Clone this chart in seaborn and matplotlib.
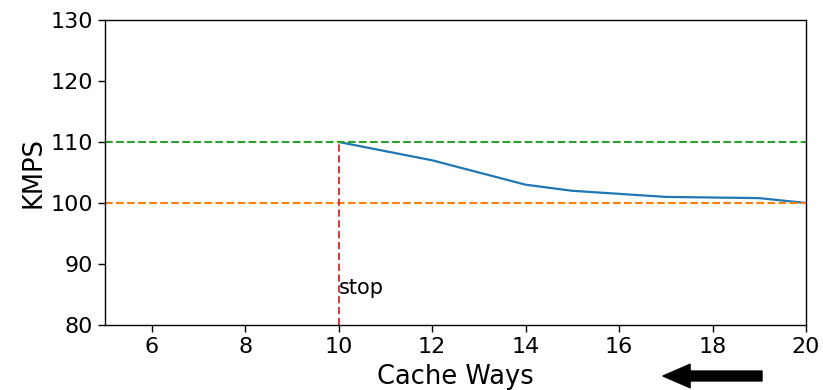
import matplotlib
matplotlib.use("Agg")
import matplotlib.pyplot as plt
import seaborn as sns
import pandas as pd

ways = [10, 12, 14, 15, 17, 19, 20]
kmps = [110, 107, 103, 102, 101, 100.8, 100]
target_high = 110
target_base = 100
stop_way = 10

sns.set_style("ticks")
plt.rcParams['font.family'] = ['DejaVu Sans']
plt.rcParams.update({"text.color": "black", "axes.labelcolor": "black",
                     "xtick.color": "black", "ytick.color": "black"})

fig = plt.figure(figsize=(8.23, 3.9), dpi=100)
ax = fig.add_axes([105/823, 1-325/390, (806-105)/823, (325-20)/390])

df = pd.DataFrame({"ways": ways, "kmps": kmps})
sns.lineplot(data=df, x="ways", y="kmps", ax=ax, color="#1f77b4", linewidth=1.6)
ax.axhline(target_high, color="#2ca02c", linestyle="--", linewidth=1.5)
ax.axhline(target_base, color="#ff7f0e", linestyle="--", linewidth=1.5)
ax.plot([stop_way, stop_way], [80, target_high], color="#d62728", linestyle=(0, (4, 2)), linewidth=1.3)
ax.text(stop_way, 86, "stop", fontsize=15, va="center", ha="left", color="black")

ax.set_xlim(5, 20)
ax.set_ylim(80, 130)
ax.set_xticks([6, 8, 10, 12, 14, 16, 18, 20])
ax.set_yticks([80, 90, 100, 110, 120, 130])
ax.tick_params(labelsize=16, length=5, width=1, color="black", labelcolor="black")
for s in ax.spines.values():
    s.set_color("black")
    s.set_linewidth(1)
ax.set_xlabel("Cache Ways", fontsize=18.5, labelpad=5, color="black")
ax.set_ylabel("KMPS", fontsize=18.5, labelpad=3, color="black")

ax.annotate("", xy=(663/823, 1-376/390), xytext=(762/823, 1-376/390),
            xycoords="figure fraction", textcoords="figure fraction",
            arrowprops=dict(arrowstyle="simple,head_length=1.5,head_width=1.3,tail_width=0.55",
                            color="black", shrinkA=0, shrinkB=0, mutation_scale=13))

fig.savefig("out.png", dpi=100)
